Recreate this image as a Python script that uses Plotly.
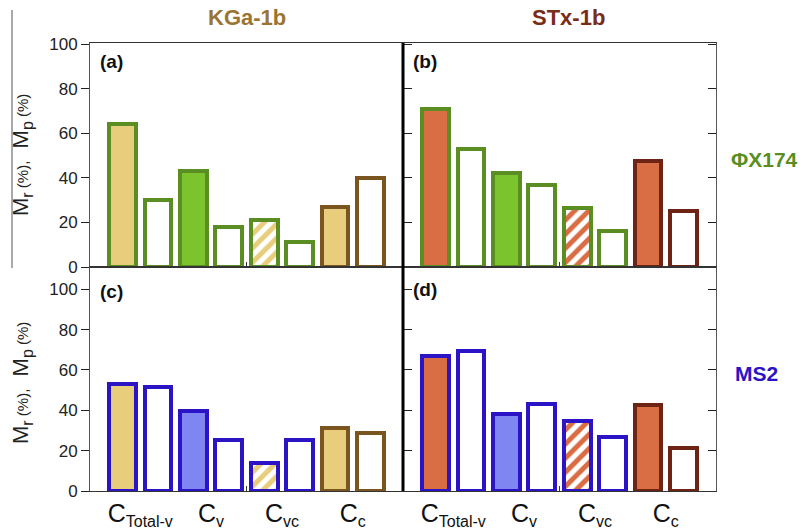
import plotly.graph_objects as go
from plotly.subplots import make_subplots

# ---------------- data ----------------
categories = ["Total-v", "v", "vc", "c"]
# Each category has an M_r bar (filled / hatched) followed by an M_p bar (white)
kga_phix_mr = [64, 43, 21, 27]
kga_phix_mp = [30, 18, 11, 40]
stx_phix_mr = [71, 42, 26.5, 47.5]
stx_phix_mp = [53, 37, 16, 25]
kga_ms2_mr = [53, 39.5, 14, 31]
kga_ms2_mp = [51.5, 25.5, 25.5, 28.5]
stx_ms2_mr = [67, 38, 34.5, 42.5]
stx_ms2_mp = [69.5, 43, 27, 21.5]

y_ticks = [0, 20, 40, 60, 80, 100]
panel_labels = ["(a)", "(b)", "(c)", "(d)"]
clay_names = ["KGa-1b", "STx-1b"]
virus_names = ["\u03a6X174", "MS2"]

# ---------------- styles ----------------
FONT = "Liberation Sans, Arial, sans-serif"
green_line, green_fill = "#5A8E23", "#7CC42E"
blue_line, blue_fill = "#2B14C6", "#7F86F2"
kga_line, kga_fill = "#7A5520", "#E8CD7C"
stx_line, stx_fill = "#6D2415", "#D96D44"
kga_title, stx_title = "#9A7433", "#7A2C1A"

fig = make_subplots(rows=2, cols=2, horizontal_spacing=0, vertical_spacing=0)

panels = [
    (1, 1, kga_phix_mr, kga_phix_mp, green_line, green_fill, kga_line, kga_fill),
    (1, 2, stx_phix_mr, stx_phix_mp, green_line, green_fill, stx_line, stx_fill),
    (2, 1, kga_ms2_mr, kga_ms2_mp, blue_line, blue_fill, kga_line, kga_fill),
    (2, 2, stx_ms2_mr, stx_ms2_mp, blue_line, blue_fill, stx_line, stx_fill),
]

for (r, c, mr, mp, vline, vfill, cline, cfill) in panels:
    xs, ys, fills, lines = [], [], [], []
    hx, hy = [], []
    for i in range(len(categories)):
        # M_r bar
        if i == 2:
            hx.append(2 * i)
            hy.append(mr[i])
        else:
            xs.append(2 * i)
            ys.append(mr[i])
            if i == 0:
                fills.append(cfill); lines.append(vline)
            elif i == 1:
                fills.append(vfill); lines.append(vline)
            else:
                fills.append(cfill); lines.append(cline)
        # M_p bar
        xs.append(2 * i + 1)
        ys.append(mp[i])
        fills.append("white")
        lines.append(cline if i == 3 else vline)
    fig.add_trace(
        go.Bar(x=xs, y=ys, width=0.76,
               marker=dict(color=fills, line=dict(color=lines, width=4)),
               showlegend=False, hoverinfo="skip"),
        row=r, col=c,
    )
    fig.add_trace(
        go.Bar(x=hx, y=hy, width=0.76,
               marker=dict(color=cfill, line=dict(color=vline, width=4),
                           pattern=dict(shape="/", fgcolor=cfill, bgcolor="white",
                                        fillmode="replace", size=10, solidity=0.5)),
               showlegend=False, hoverinfo="skip"),
        row=r, col=c,
    )

tick_text = ["C<sub><span style='font-size:16px'>%s</span></sub>" % s for s in categories]
tickvals_x = [0.5, 2.5, 4.5, 6.5]
for r in (1, 2):
    for c in (1, 2):
        fig.update_xaxes(
            range=[-0.92, 7.92], tickvals=tickvals_x,
            ticktext=tick_text if r == 2 else ["", "", "", ""],
            ticks="", showline=True, linecolor="#333", linewidth=1, mirror=True,
            showgrid=False, zeroline=False, automargin=False,
            minor=dict(tick0=3.5, dtick=20, ticks="inside", ticklen=5,
                       tickcolor="#333", showgrid=False),
            tickfont=dict(family=FONT, size=25, color="#111"),
            row=r, col=c,
        )
        fig.update_yaxes(
            range=[0, 100.5] if r == 1 else [0, 111], tickvals=y_ticks,
            showticklabels=(c == 1),
            ticks="outside" if c == 1 else "inside", ticklen=8,
            tickcolor="#222", tickwidth=1.3,
            showline=True, linecolor="#555", linewidth=1, mirror="ticks",
            showgrid=False, zeroline=False, automargin=False,
            tickfont=dict(family=FONT, size=17, color="#222"),
            row=r, col=c,
        )

# ---------------- annotations ----------------
ann = []
def add_text(text, x, y, size, color, angle=0):
    ann.append(dict(text=text, x=x, y=y, xref="paper", yref="paper",
                    xanchor="center", yanchor="middle", textangle=angle,
                    showarrow=False, font=dict(family=FONT, size=size, color=color)))

add_text("<b>%s</b>" % clay_names[0], 0.25, 1.056, 22, kga_title)
add_text("<b>%s</b>" % clay_names[1], 0.765, 1.056, 22, stx_title)
add_text("<b>%s</b>" % virus_names[0], (764 - 90) / 626, (491 - 159) / 448, 21, green_line)
add_text("<b>%s</b>" % virus_names[1], (757 - 90) / 626, (491 - 373) / 448, 21, blue_line)

ytitle = ("M<sub><span style='font-size:16px'>r</span></sub>"
          "<span style='font-size:15px'> (%),</span>  "
          "M<sub><span style='font-size:16px'>p</span></sub>"
          "<span style='font-size:15px'> (%)</span>")
add_text(ytitle, (22 - 90) / 626, (491 - 155) / 448, 22, "#222", -90)
add_text(ytitle, (22 - 90) / 626, (491 - 383) / 448, 22, "#222", -90)

label_pos = [(1, 1, 0.975), (1, 2, 0.975), (2, 1, 0.945), (2, 2, 0.955)]
for lbl, (r, c, yd) in zip(panel_labels, label_pos):
    n = (r - 1) * 2 + c
    xref = "x domain" if n == 1 else "x%d domain" % n
    yref = "y domain" if n == 1 else "y%d domain" % n
    ann.append(dict(text="<b>%s</b>" % lbl, x=0.025, y=yd, xref=xref, yref=yref,
                    xanchor="left", yanchor="top", showarrow=False,
                    font=dict(family=FONT, size=19, color="#111")))

shapes_list = [
    # thick divider between left and right columns
    dict(type="line", xref="paper", yref="paper", x0=0.5, x1=0.5, y0=0, y1=1,
         line=dict(color="black", width=3)),
    # thin vertical rule at far left of the top row
    dict(type="line", xref="paper", yref="paper", x0=(12 - 90) / 626, x1=(12 - 90) / 626,
         y0=(491 - 268) / 448, y1=(491 - 10) / 448,
         line=dict(color="#555", width=1)),
]

fig.update_layout(
    width=806, height=530,
    margin=dict(l=90, r=90, t=43, b=39, autoexpand=False),
    paper_bgcolor="white", plot_bgcolor="white",
    bargap=0, barmode="overlay", annotations=ann, shapes=shapes_list,
    font=dict(family=FONT),
)

fig.write_html("out.html")
